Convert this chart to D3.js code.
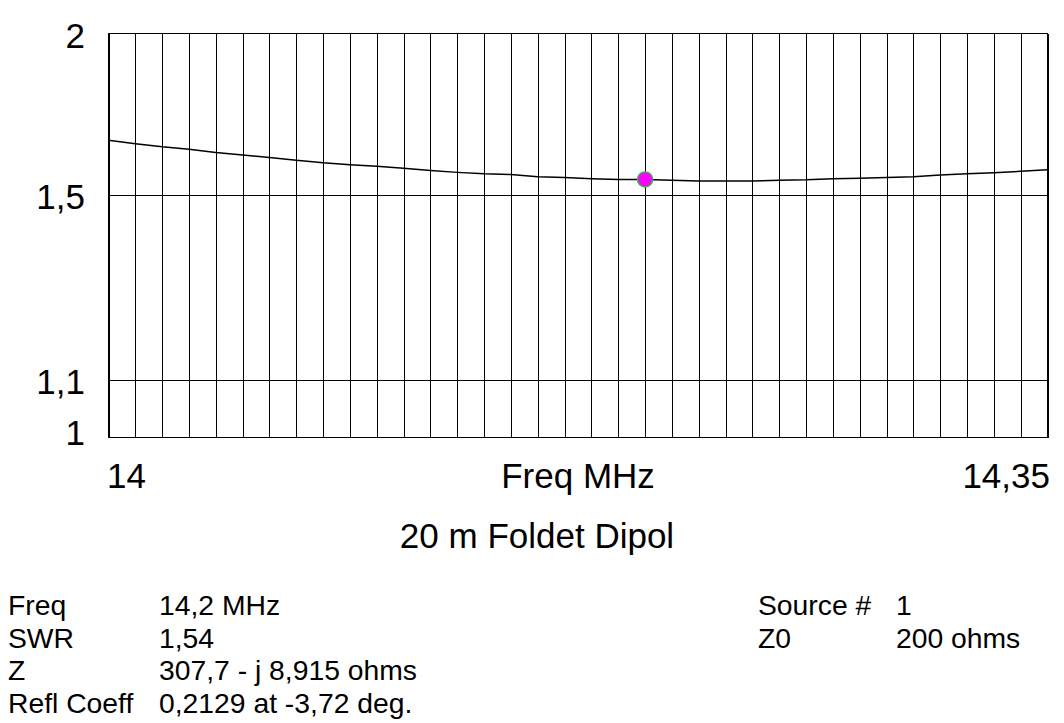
<!DOCTYPE html>
<html><head><meta charset="utf-8">
<script src="https://cdn.jsdelivr.net/npm/d3@7/dist/d3.min.js"></script>
<style>
html,body{margin:0;padding:0;background:#fff;}
svg{display:block;font-family:"Liberation Sans",Arial,sans-serif;}
</style></head>
<body><svg id="c" width="1064" height="723"></svg>
<script>
// Data
const freqs = [14.00,14.01,14.02,14.03,14.04,14.05,14.06,14.07,14.08,14.09,
  14.10,14.11,14.12,14.13,14.14,14.15,14.16,14.17,14.18,14.19,
  14.20,14.21,14.22,14.23,14.24,14.25,14.26,14.27,14.28,14.29,
  14.30,14.31,14.32,14.33,14.34,14.35];
const swr = [1.650,1.640,1.631,1.624,1.615,1.608,1.601,1.593,1.586,1.581,
  1.577,1.571,1.565,1.560,1.556,1.554,1.548,1.546,1.543,1.541,
  1.541,1.539,1.537,1.537,1.537,1.539,1.540,1.543,1.544,1.546,
  1.548,1.553,1.556,1.559,1.563,1.567];
const yTicks = [1, 1.1, 1.5, 2];
const yGridValues = [1.1, 1.5];
const xTickLabels = [14, 14.35];
const xGridStep = 0.01;
const marker = {freq: 14.2, swr: 1.541};
const title = "20 m Foldet Dipol";
const xAxisTitle = "Freq MHz";
const infoLeftKeys = ["Freq", "SWR", "Z", "Refl Coeff"];
const infoLeftVals = ["14,2 MHz", "1,54", "307,7 - j 8,915 ohms", "0,2129 at -3,72 deg."];
const infoRightKeys = ["Source #", "Z0"];
const infoRightVals = ["1", "200 ohms"];

const rho = s => (s - 1) / (s + 1);
const fmt = v => String(v).replace(".", ",");

const L = 108.5, R = 1047.5, T = 33.5, B = 437.5;
const svg = d3.select("#c");
const x = d3.scaleLinear().domain([14, 14.35]).range([L, R]);
const y = d3.scaleLinear().domain([0, rho(2)]).range([B, T]);

// vertical grid
const gridVals = d3.range(0, 36).map(i => +(14 + i * xGridStep).toFixed(2));
const gx = svg.append("g").attr("transform", `translate(0,${B})`)
  .call(d3.axisBottom(x).tickValues(gridVals).tickSize(-(B - T)).tickFormat(""));
gx.select(".domain").remove();
gx.selectAll("line").attr("stroke", "#000").attr("stroke-width", 1).attr("shape-rendering", "crispEdges");

// horizontal grid
const gy = svg.append("g").attr("transform", `translate(${L},0)`)
  .call(d3.axisLeft(y).tickValues(yGridValues.map(rho)).tickSize(-(R - L)).tickFormat(""));
gy.select(".domain").remove();
gy.selectAll("line").attr("stroke", "#000").attr("stroke-width", 1).attr("shape-rendering", "crispEdges");

// frame
svg.append("rect").attr("x", L).attr("y", T).attr("width", R - L).attr("height", B - T)
  .attr("fill", "none").attr("stroke", "#000").attr("stroke-width", 1).attr("shape-rendering", "crispEdges");

// y labels
const ya = svg.append("g").attr("transform", `translate(85,0)`)
  .call(d3.axisLeft(y).tickValues(yTicks.map(rho)).tickSize(0).tickPadding(0)
    .tickFormat(r => fmt(+((1 + r) / (1 - r)).toFixed(2))));
ya.select(".domain").remove();
ya.selectAll("text").attr("font-size", 35).attr("fill", "#000")
  .attr("font-family", "Liberation Sans, Arial, sans-serif")
  .attr("dy", null).attr("y", function(d){ return (y(d) > B - 2 ? -6 : 1); })
  .attr("dominant-baseline", "central");

// x labels
const xa = svg.append("g").attr("transform", `translate(0,${B})`)
  .call(d3.axisBottom(x).tickValues(xTickLabels).tickSize(0).tickPadding(0).tickFormat(fmt));
xa.select(".domain").remove();
xa.selectAll("text").attr("font-size", 35).attr("fill", "#000")
  .attr("font-family", "Liberation Sans, Arial, sans-serif")
  .attr("dy", null).attr("y", 50)
  .attr("text-anchor", (d, i) => i === 0 ? "start" : "end")
  .attr("dx", (d, i) => i === 0 ? "-2" : "2");

svg.append("text").attr("x", (L + R) / 2).attr("y", B + 50).attr("text-anchor", "middle")
  .attr("font-size", 35).text(xAxisTitle);
svg.append("text").attr("x", 537).attr("y", 548).attr("text-anchor", "middle")
  .attr("font-size", 35).text(title);

// curve
const pts = freqs.map((f, i) => [f, swr[i]]);
svg.append("path").datum(pts)
  .attr("fill", "none").attr("stroke", "#000").attr("stroke-width", 1.5)
  .attr("d", d3.line().x(d => x(d[0])).y(d => y(rho(d[1]))));

// marker
svg.append("circle").attr("cx", x(marker.freq)).attr("cy", y(rho(marker.swr))).attr("r", 7.5)
  .attr("fill", "#ff00ff").attr("stroke", "#44aa55").attr("stroke-width", 1.5);

// info
const base = 615, lh = 32.7;
infoLeftKeys.forEach((k, i) => {
  svg.append("text").attr("x", 8).attr("y", base + i * lh).attr("font-size", 28.3).text(k);
  svg.append("text").attr("x", 159).attr("y", base + i * lh).attr("font-size", 28.3).text(infoLeftVals[i]);
});
infoRightKeys.forEach((k, i) => {
  svg.append("text").attr("x", 758).attr("y", base + i * lh).attr("font-size", 28.3).text(k);
  svg.append("text").attr("x", 896).attr("y", base + i * lh).attr("font-size", 28.3).text(infoRightVals[i]);
});
</script></body></html>
